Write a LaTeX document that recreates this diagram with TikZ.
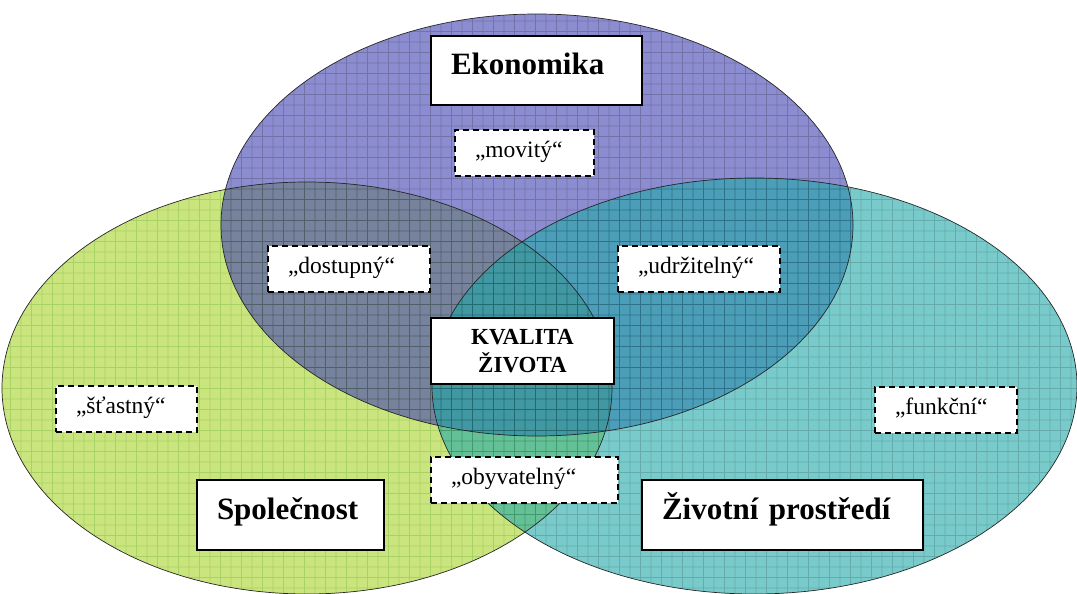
\documentclass[tikz,border=0pt]{standalone}
\usepackage{fontspec}
\setmainfont{Liberation Serif}
\definecolor{socgreen}{RGB}{168,212,40}
\definecolor{socgrid}{RGB}{110,180,0}
\definecolor{ecoblue}{RGB}{64,64,176}
\definecolor{ecogrid}{RGB}{20,20,110}
\definecolor{envteal}{RGB}{32,168,168}
\definecolor{envgrid}{RGB}{0,115,115}
\tikzset{
  headbox/.style={draw=black, line width=1.6pt, fill=white, inner ysep=0pt,
    inner xsep=20pt, align=left, text height=21pt, text depth=12pt,
    font=\fontsize{31}{36}\selectfont\bfseries},
  wordbox/.style={draw=black, line width=1.6pt, dash pattern=on 6pt off 4pt,
    fill=white, inner ysep=0pt, inner xsep=20pt, align=left,
    text height=16pt, text depth=8pt, font=\fontsize{23.5}{28}\selectfont},
  rim/.style={draw=black!85, line width=0.7pt},
  netlines/.style={line width=0.85pt, step=10.5pt}
}
\begin{document}
\begin{tikzpicture}[x=1pt,y=-1pt]
\useasboundingbox (0,0) rectangle (1077,594);

% Spolecnost
\begin{scope}[transparency group, opacity=0.6]
\fill[socgreen] (307,388) ellipse [x radius=305pt, y radius=206pt];
\clip (307,388) ellipse [x radius=305pt, y radius=206pt];
\draw[socgrid, netlines] (0,0) grid (1080,600);
\end{scope}

% Ekonomika
\begin{scope}[transparency group, opacity=0.6]
\fill[ecoblue] (537,225) ellipse [x radius=316pt, y radius=211pt];
\clip (537,225) ellipse [x radius=316pt, y radius=211pt];
\draw[ecogrid, netlines] (0,0) grid (1080,600);
\end{scope}

% Zivotni prostredi
\begin{scope}[transparency group, opacity=0.6]
\fill[envteal] (754.5,386) ellipse [x radius=322.5pt, y radius=208pt];
\clip (754.5,386) ellipse [x radius=322.5pt, y radius=208pt];
\draw[envgrid, netlines] (0,0) grid (1080,600);
\end{scope}

\draw[rim] (307,388) ellipse [x radius=305pt, y radius=206pt];
\draw[rim] (537,225) ellipse [x radius=316pt, y radius=211pt];
\draw[rim] (754.5,386) ellipse [x radius=322.5pt, y radius=208pt];

% nadpisy
\node[headbox, text width=171pt, minimum height=69pt] (econ) at (536.5,70.5) {Ekonomika};
\node[headbox, text width=147pt, minimum height=70pt] (soc) at (290.5,515) {Společnost};
\node[headbox, text width=241pt, minimum height=70pt] (env) at (782.5,515) {Životní prostředí};
\node[draw=black, line width=1.6pt, fill=white, minimum width=183pt, minimum height=66pt,
  align=center, font=\fontsize{23}{28}\selectfont\bfseries] (qol) at (522.5,351) {KVALITA\\ŽIVOTA};

% prunik
\node[wordbox, text width=99pt, minimum height=46pt] (movable) at (524.5,153) {„movitý“};
\node[wordbox, text width=122pt, minimum height=46pt] (access) at (349,269) {„dostupný“};
\node[wordbox, text width=122pt, minimum height=46pt] (sustain) at (699,269) {„udržitelný“};
\node[wordbox, text width=101pt, minimum height=46pt] (happy) at (126.5,409) {„šťastný“};
\node[wordbox, text width=102pt, minimum height=46pt] (working) at (946,410) {„funkční“};
\node[wordbox, text width=147pt, minimum height=46pt] (livable) at (524.5,480) {„obyvatelný“};
\end{tikzpicture}
\end{document}
